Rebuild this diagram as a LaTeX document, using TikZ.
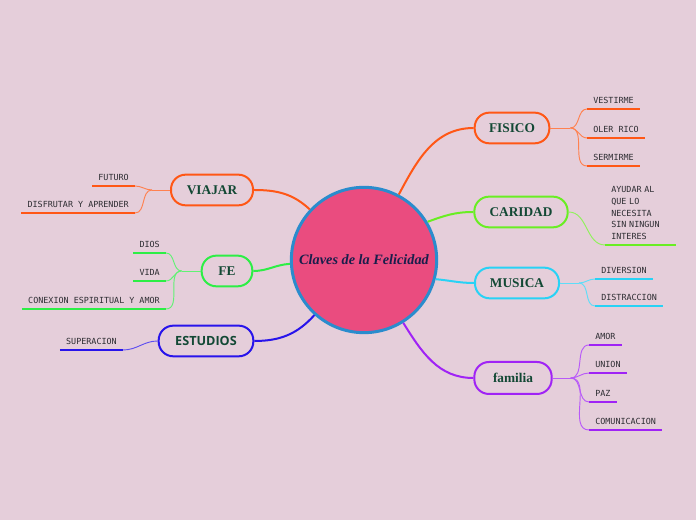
\documentclass[tikz,border=0pt]{standalone}
\usepackage{fontspec}
\usepackage{tikz}
\usetikzlibrary{positioning, calc}
\newfontfamily\leaffont{DejaVu Sans Mono}
\newfontfamily\topicfont{Liberation Serif}
\newfontfamily\studyfont{Open Sans}
\definecolor{bgpink}{RGB}{229,206,218}
\definecolor{centrepink}{RGB}{234,76,127}
\definecolor{centreblue}{RGB}{42,140,205}
\definecolor{centretext}{RGB}{25,30,75}
\definecolor{topictext}{RGB}{18,72,52}
\definecolor{leaftext}{RGB}{45,45,50}
\definecolor{fisorange}{RGB}{255,87,22}
\definecolor{limegreen}{RGB}{105,238,35}
\definecolor{fegreen}{RGB}{45,238,70}
\definecolor{musiccyan}{RGB}{40,210,245}
\definecolor{familypurple}{RGB}{160,35,245}
\definecolor{studyblue}{RGB}{40,20,235}

\begin{document}
\begin{tikzpicture}[
    x=0.75pt, y=0.75pt,
    centre/.style={circle, draw=centreblue, line width=2.25pt, fill=centrepink, inner sep=0pt, minimum size=109pt, text=centretext, font=\topicfont\bfseries\itshape\fontsize{10.7}{13}\selectfont},
    topic/.style={rectangle, rounded corners=11pt, draw=#1, line width=1.5pt, minimum height=23pt, text=topictext, font=\topicfont\bfseries\fontsize{10}{12}\selectfont},
    leaf/.style={text=leaftext, inner xsep=4.5pt, inner ysep=4pt, align=left, font=\leaffont\fontsize{6.3}{8.7}\selectfont},
    branch/.style={line width=1.5pt, #1},
    twig/.style={line width=0.7pt, #1!75},
    under/.style={line width=1.8pt, #1}
]
    \path[use as bounding box, fill=bgpink] (0,0) rectangle (696,520);

    % Centre
    \node [centre] (centre) at (364,260) {Claves de la Felicidad};

    % Topics on the right
    \node [topic=fisorange, minimum width=56pt] (fisico) at (512,392) {FISICO};
    \node [topic=limegreen, minimum width=70pt] (caridad) at (521,308) {CARIDAD};
    \node [topic=musiccyan, minimum width=63pt] (musica) at (517,237) {MUSICA};
    \node [topic=familypurple, minimum width=58pt, minimum height=24pt] (familia) at (513,142) {familia};

    % Topics on the left
    \node [topic=fisorange, minimum width=61.5pt] (viajar) at (212,330) {VIAJAR};
    \node [topic=fegreen, minimum width=38pt] (fe) at (227,249) {FE};
    \node [topic=studyblue, minimum width=71pt, font=\studyfont\bfseries\fontsize{9.5}{11}\selectfont] (estudios) at (206,179) {ESTUDIOS};

    % Leaves of FISICO
    \node [leaf, anchor=south west] (vestirme) at (587,411) {VESTIRME};
    \node [leaf, anchor=south west] (oler) at (587,382) {OLER RICO};
    \node [leaf, anchor=south west] (sermirme) at (587,354) {SERMIRME};

    % Leaf of CARIDAD
    \node [leaf, anchor=south west, text width=43.5pt] (ayudar) at (605,275) {AYUDAR AL\\QUE LO\\NECESITA\\SIN NINGUN\\INTERES};

    % Leaves of MUSICA
    \node [leaf, anchor=south west] (diversion) at (595,241) {DIVERSION};
    \node [leaf, anchor=south west] (distraccion) at (595,214) {DISTRACCION};

    % Leaves of familia
    \node [leaf, anchor=south west] (amor) at (589,175) {AMOR};
    \node [leaf, anchor=south west] (union) at (589,147) {UNION};
    \node [leaf, anchor=south west] (paz) at (589,118) {PAZ};
    \node [leaf, anchor=south west] (comunicacion) at (589,90) {COMUNICACION};

    % Leaves of VIAJAR
    \node [leaf, anchor=south east] (futuro) at (135,334) {FUTURO};
    \node [leaf, anchor=south east] (disfrutar) at (135,307) {DISFRUTAR Y APRENDER};

    % Leaves of FE
    \node [leaf, anchor=south east] (dios) at (166,267) {DIOS};
    \node [leaf, anchor=south east] (vida) at (166,239) {VIDA};
    \node [leaf, anchor=south east] (conexion) at (166,211) {CONEXION ESPIRITUAL Y AMOR};

    % Leaf of ESTUDIOS
    \node [leaf, anchor=south east] (superacion) at (123,170) {SUPERACION};

    % Forks
    \coordinate (fisfork) at ($(fisico.east)+(20,0)$);
    \coordinate (musfork) at ($(musica.east)+(19,0)$);
    \coordinate (famfork) at ($(familia.east)+(18,0)$);
    \coordinate (viafork) at ($(viajar.west)+(-18,0)$);
    \coordinate (fefork) at ($(fe.west)+(-19,0)$);

    % Centre to topics
    \draw [branch=fisorange] (centre.62) to[out=62, in=180] (fisico.west);
    \draw [branch=limegreen] (centre.31) to[out=20, in=180] (caridad.west);
    \draw [branch=musiccyan] (centre.-15) to[out=-5, in=180] (musica.west);
    \draw [branch=familypurple] (centre.-58) to[out=-58, in=180] (familia.west);
    \draw [branch=fisorange] (viajar.east) to[out=0, in=137] (centre.137);
    \draw [branch=fegreen] (fe.east) to[out=0, in=183] (centre.183);
    \draw [branch=studyblue] (estudios.east) to[out=0, in=228] (centre.228);

    % FISICO branch
    \draw [twig=fisorange] (fisico.east) -- (fisfork);
    \draw [twig=fisorange] (fisfork) to[out=0, in=180] (vestirme.south west);
    \draw [twig=fisorange] (fisfork) to[out=0, in=180] (oler.south west);
    \draw [twig=fisorange] (fisfork) to[out=0, in=180] (sermirme.south west);
    \draw [under=fisorange] (vestirme.south west) -- (vestirme.south east);
    \draw [under=fisorange] (oler.south west) -- (oler.south east);
    \draw [under=fisorange] (sermirme.south west) -- (sermirme.south east);

    % CARIDAD branch
    \draw [twig=limegreen] (caridad.east) to[out=0, in=180] (ayudar.south west);
    \draw [under=limegreen] (ayudar.south west) -- (ayudar.south east);

    % MUSICA branch
    \draw [twig=musiccyan] (musica.east) -- (musfork);
    \draw [twig=musiccyan] (musfork) to[out=0, in=180] (diversion.south west);
    \draw [twig=musiccyan] (musfork) to[out=0, in=180] (distraccion.south west);
    \draw [under=musiccyan] (diversion.south west) -- (diversion.south east);
    \draw [under=musiccyan] (distraccion.south west) -- (distraccion.south east);

    % familia branch
    \draw [twig=familypurple] (familia.east) -- (famfork);
    \draw [twig=familypurple] (famfork) to[out=0, in=180] (amor.south west);
    \draw [twig=familypurple] (famfork) to[out=0, in=180] (union.south west);
    \draw [twig=familypurple] (famfork) to[out=0, in=180] (paz.south west);
    \draw [twig=familypurple] (famfork) to[out=0, in=180] (comunicacion.south west);
    \draw [under=familypurple] (amor.south west) -- (amor.south east);
    \draw [under=familypurple] (union.south west) -- (union.south east);
    \draw [under=familypurple] (paz.south west) -- (paz.south east);
    \draw [under=familypurple] (comunicacion.south west) -- (comunicacion.south east);

    % VIAJAR branch
    \draw [twig=fisorange] (viajar.west) -- (viafork);
    \draw [twig=fisorange] (viafork) to[out=180, in=0] (futuro.south east);
    \draw [twig=fisorange] (viafork) to[out=180, in=0] (disfrutar.south east);
    \draw [under=fisorange] (futuro.south west) -- (futuro.south east);
    \draw [under=fisorange] (disfrutar.south west) -- (disfrutar.south east);

    % FE branch
    \draw [twig=fegreen] (fe.west) -- (fefork);
    \draw [twig=fegreen] (fefork) to[out=180, in=0] (dios.south east);
    \draw [twig=fegreen] (fefork) to[out=180, in=0] (vida.south east);
    \draw [twig=fegreen] (fefork) to[out=180, in=0] (conexion.south east);
    \draw [under=fegreen] (dios.south west) -- (dios.south east);
    \draw [under=fegreen] (vida.south west) -- (vida.south east);
    \draw [under=fegreen] (conexion.south west) -- (conexion.south east);

    % ESTUDIOS branch
    \draw [twig=studyblue] (estudios.west) to[out=180, in=0] (superacion.south east);
    \draw [under=studyblue] (superacion.south west) -- (superacion.south east);

\end{tikzpicture}
\end{document}
